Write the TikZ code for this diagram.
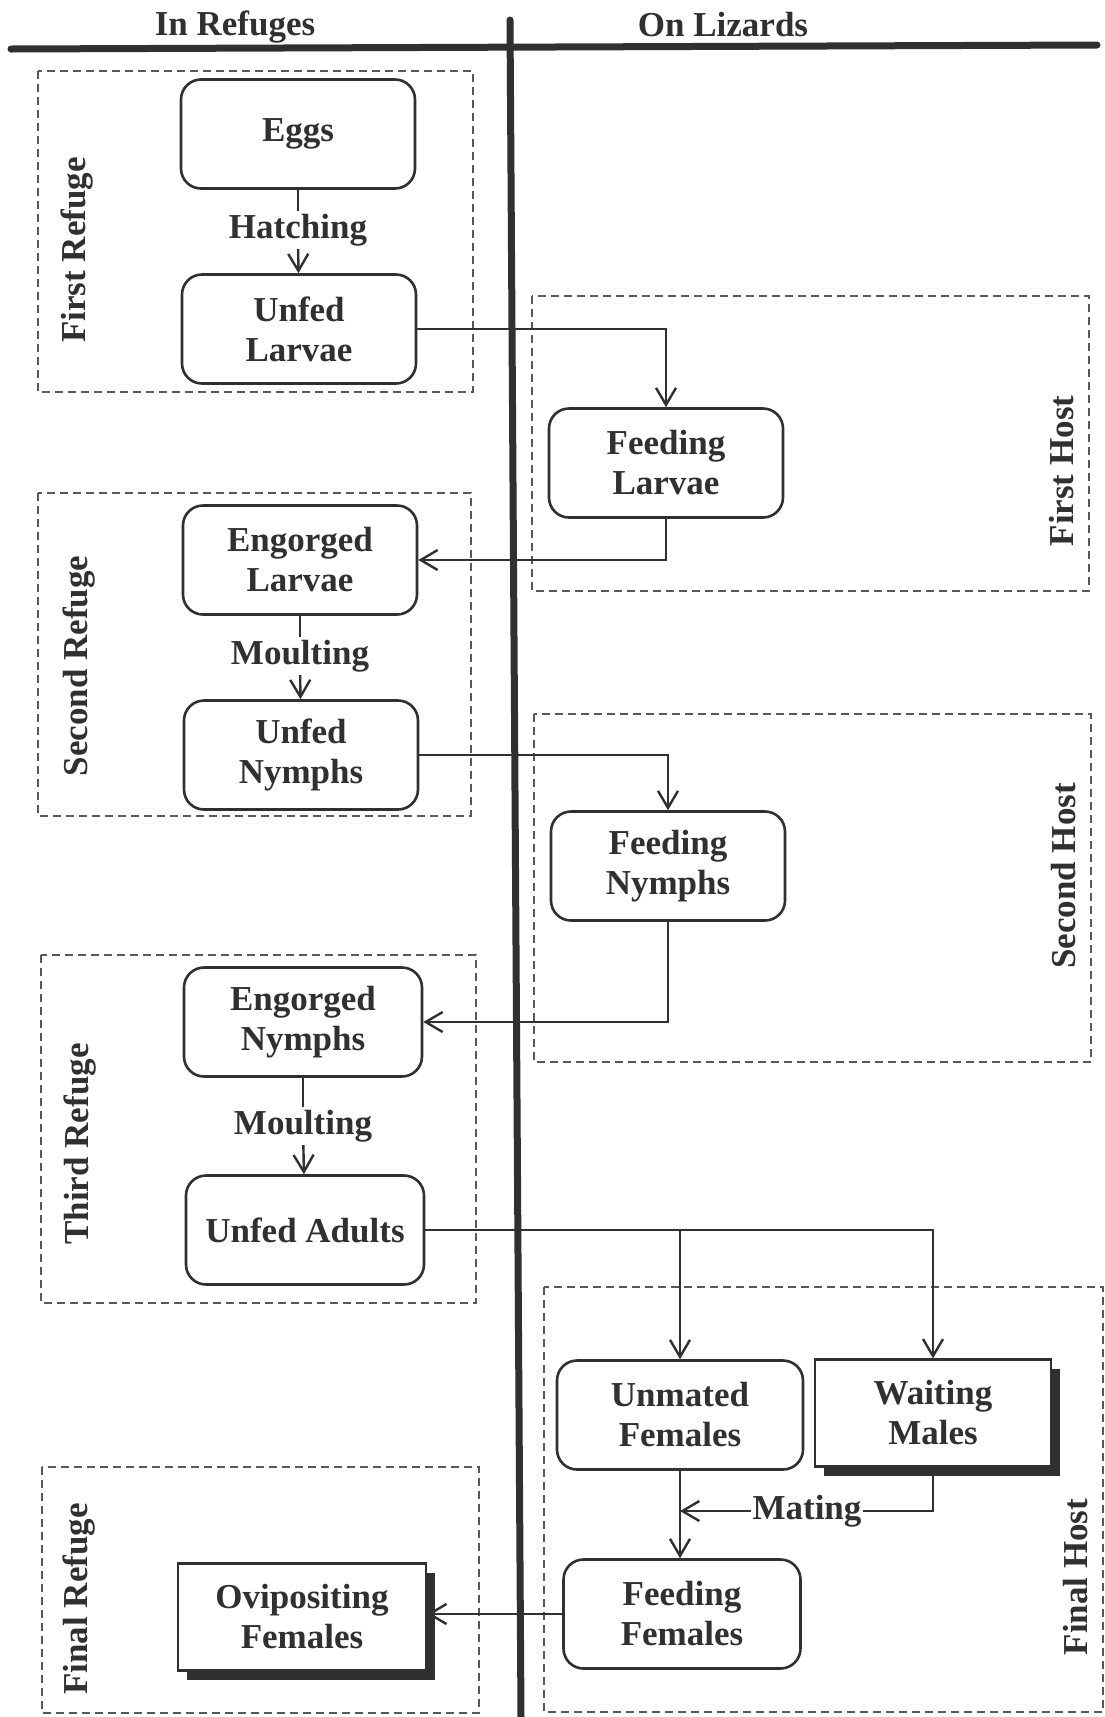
\documentclass[tikz,border=0pt]{standalone}
\usepackage{fontspec}
\setmainfont{Liberation Serif}
\usetikzlibrary{arrows.meta,shadows}
\definecolor{ink}{HTML}{303030}
\definecolor{dash}{HTML}{585858}
\begin{document}
\begin{tikzpicture}[x=1pt,y=-1pt,
  every node/.style={text=ink, font=\fontsize{35}{40}\selectfont\bfseries},
  stage/.style={draw=ink, line width=2.6pt, rounded corners=20pt, align=center,
    minimum width=234pt, minimum height=109pt, inner sep=0pt},
  shadowed/.style={draw=ink, line width=2.2pt, fill=white, align=center,
    minimum width=236pt, minimum height=107pt, inner sep=0pt,
    drop shadow={shadow xshift=9pt, shadow yshift=-9pt, fill=ink, opacity=1}},
  conn/.style={draw=ink, line width=2.4pt, -{Straight Barb[length=17pt,width=20pt,line width=2.4pt]}},
  plain/.style={draw=ink, line width=2.4pt},
  region/.style={draw=dash, dash pattern=on 8pt off 5pt, line width=1.6pt},
  axis/.style={draw=ink, line width=7pt, line cap=round},
  lbl/.style={inner sep=3pt},
  side/.style={rotate=90}
]
\useasboundingbox (0,0) rectangle (1105,1717);

% header
\node (hl) at (235,27) {In Refuges};
\node (hr) at (723,25) {On Lizards};
\draw[axis] (11,49) -- (1097,45);
\draw[axis] (510,20) -- (521,1717);

% regions
\draw[region] (38,71) rectangle (473,392);
\draw[region] (38,493) rectangle (471,816);
\draw[region] (41,955) rectangle (476,1303);
\draw[region] (42,1467) rectangle (479,1713);
\draw[region] (532,296) rectangle (1089,591);
\draw[region] (534,714) rectangle (1091,1062);
\draw[region] (544,1287) rectangle (1103,1712);

\node[side] (r1) at (77,250) {First Refuge};
\node[side] (r2) at (79,666) {Second Refuge};
\node[side] (r3) at (80,1144) {Third Refuge};
\node[side] (r4) at (79,1599) {Final Refuge};
\node[side] (h1) at (1062,471) {First Host};
\node[side] (h2) at (1064,876) {Second Host};
\node[side] (h3) at (1076,1577) {Final Host};

% stages
\node[stage] (eggs) at (298,134) {\raisebox{-4pt}{Eggs}};
\node[stage] (ularv) at (299,329) {Unfed\\Larvae};
\node[stage] (flarv) at (666,463) {Feeding\\Larvae};
\node[stage] (elarv) at (300,560) {Engorged\\Larvae};
\node[stage] (unymph) at (301,755) {Unfed\\Nymphs};
\node[stage] (fnymph) at (668,866) {Feeding\\Nymphs};
\node[stage, minimum width=238pt] (enymph) at (303,1022) {Engorged\\Nymphs};
\node[stage, minimum width=238pt] (uadult) at (305,1230) {Unfed Adults};
\node[stage, minimum width=246pt] (unmated) at (680,1415) {Unmated\\Females};
\node[shadowed] (waiting) at (933,1413) {Waiting\\Males};
\node[stage, minimum width=237pt] (ffem) at (682,1614) {Feeding\\Females};
\node[shadowed, minimum width=248pt] (ovi) at (302,1617) {Ovipositing\\Females};

% labels
\node[lbl] (hatch) at (298,230) {Hatching};
\node[lbl] (moult1) at (300,656) {Moulting};
\node[lbl] (moult2) at (303,1126) {Moulting};
\node[lbl, inner sep=1pt] (mating) at (807,1511) {Mating};

% connectors
\draw[plain] (eggs) -- (hatch);
\draw[conn] (hatch) -- (ularv);
\draw[conn] (ularv.east) -| (flarv.north);
\draw[conn] (flarv.south) |- (elarv.east);
\draw[plain] (elarv) -- (moult1);
\draw[conn] (moult1) -- (unymph);
\draw[conn] (unymph.east) -| (fnymph.north);
\draw[conn] (fnymph.south) |- (enymph.east);
\draw[plain] (enymph) -- (moult2);
\draw[conn] (moult2) -- (uadult);
\coordinate (split) at (unmated.north |- uadult.east);
\draw[conn] (uadult.east) -| (waiting.north);
\draw[conn] (split) -- (unmated.north);
\draw[conn] (unmated.south) -- (unmated.south |- ffem.north);
\draw[plain] (waiting.south) |- (mating.east);
\draw[conn] (mating.west) -- (unmated.south |- mating.west);
\draw[conn] (ffem.west) -- (ffem.west -| ovi.east);
\end{tikzpicture}
\end{document}
